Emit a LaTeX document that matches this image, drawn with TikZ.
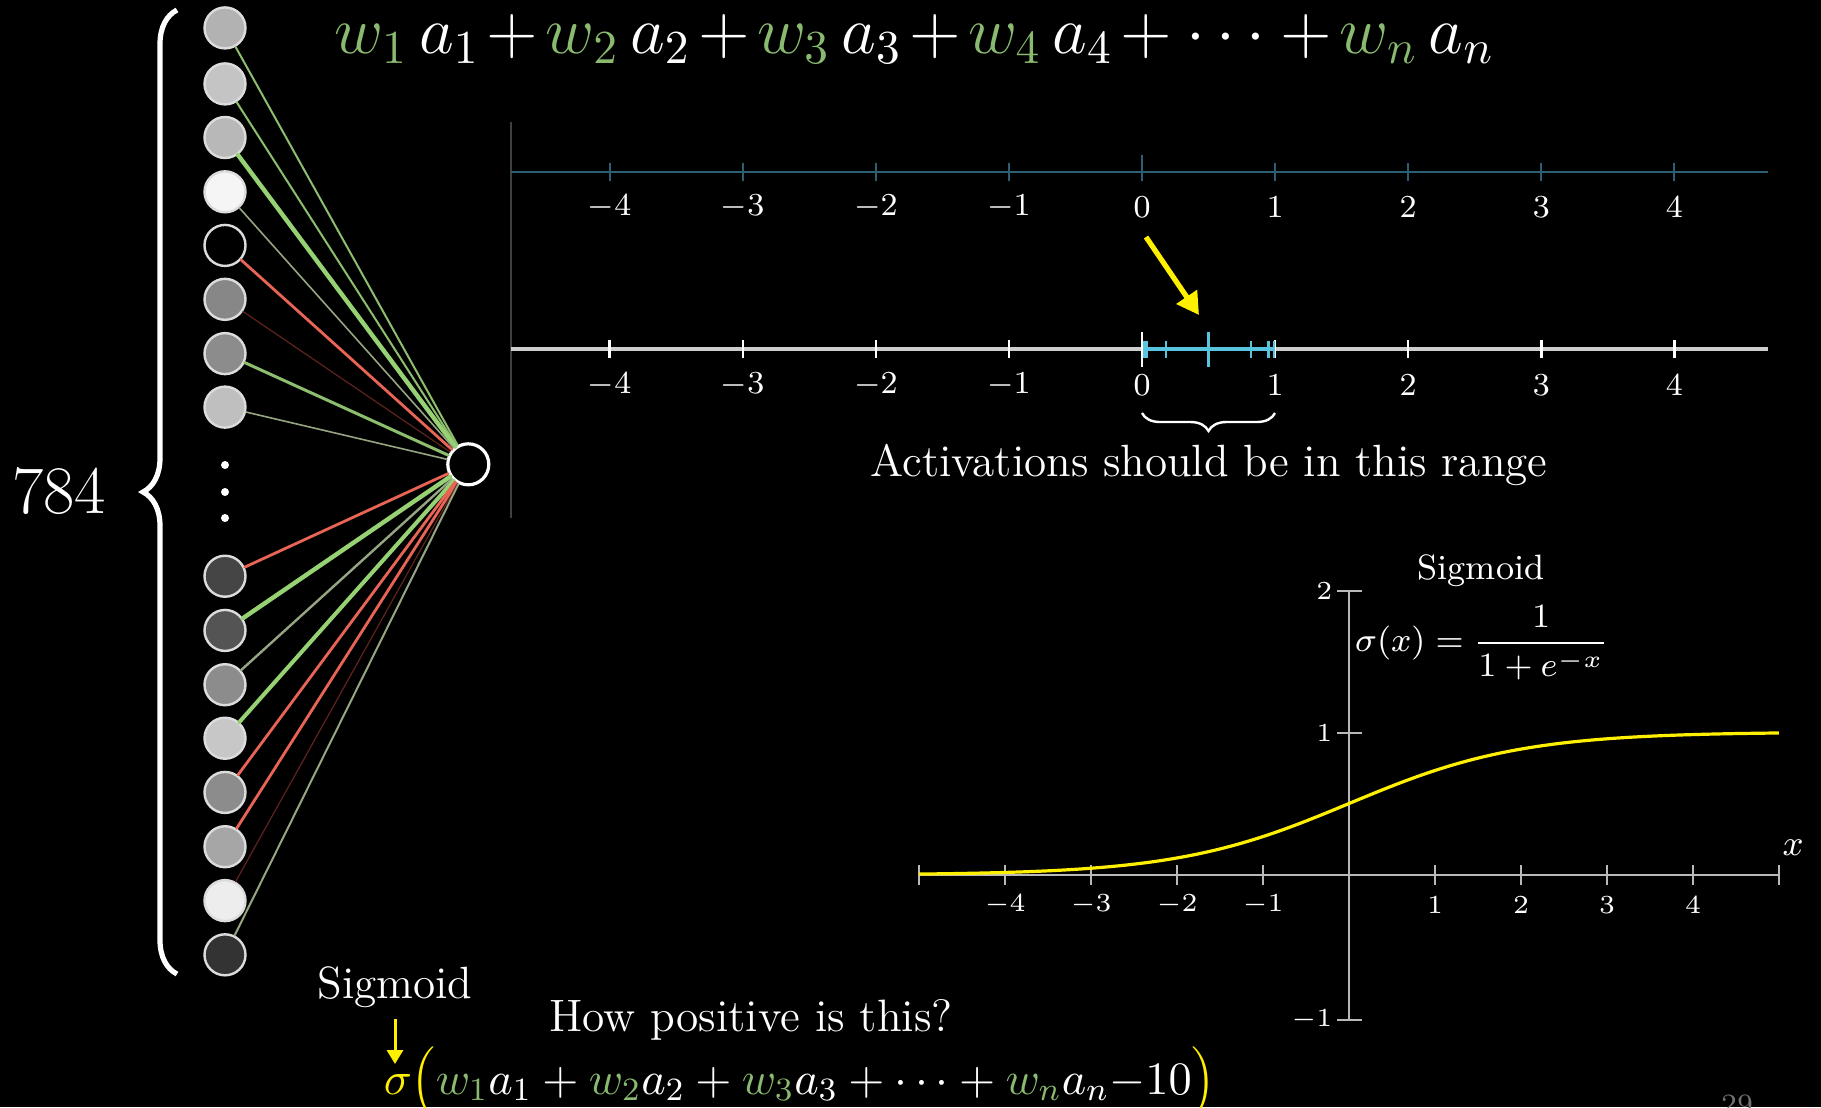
\RequirePackage{fix-cm}
\documentclass[tikz,border=0pt]{standalone}
\usetikzlibrary{decorations.pathreplacing,arrows.meta}
\definecolor{wtxt}{RGB}{138,186,112}
\definecolor{lgA}{RGB}{140,190,110}
\definecolor{lgB}{RGB}{150,210,115}
\definecolor{lgC}{RGB}{150,165,130}
\definecolor{lrA}{RGB}{232,100,85}
\definecolor{lrD}{RGB}{95,35,30}
\definecolor{yel}{RGB}{255,240,0}
\definecolor{cyanl}{RGB}{88,196,221}
\definecolor{tealline}{RGB}{45,95,115}
\definecolor{axgray}{RGB}{185,185,185}
\definecolor{nlgray}{RGB}{205,205,205}
\definecolor{ringgray}{RGB}{220,220,220}
\newcommand{\Wg}[1]{{\color{wtxt}#1}}
\newcommand{\FS}[1]{\fontsize{#1}{#1}\selectfont}
\begin{document}
\begin{tikzpicture}[x=0.25pt,y=-0.25pt,
  neuron/.style={circle,draw=ringgray,line width=0.6pt,minimum size=10.25pt,inner sep=0pt},
  outn/.style={circle,draw=white,line width=0.8pt,fill=black,minimum size=10.25pt,inner sep=0pt},
  dotn/.style={circle,fill=white,minimum size=2pt,inner sep=0pt},
  lbl/.style={text=white,inner sep=0pt},
  nlabel/.style={lbl,font=\FS{8}},
  slabel/.style={lbl,font=\FS{6.5}},
  conn/.style={line cap=round}]
\fill[black] (0,0) rectangle (1821,1107);
\useasboundingbox (0,0) rectangle (1821,1107);

% ---------- input neurons ----------
\foreach \i/\yy/\g in {1/27.9/70,2/83.9/77,3/137.5/72,4/191.8/96,5/245.4/0,6/299.3/53,7/353.6/55,8/407.1/75,
  9/576.2/27,10/630.4/33,11/684.7/55,12/738.2/78,13/792.4/55,14/846.7/65,15/900.6/93,16/954.8/20}
  \node[neuron,fill=white!\g!black] (n\i) at (225,\yy) {};
\node[dotn] (d1) at (225,465) {};
\node[dotn] (d2) at (225,492) {};
\node[dotn] (d3) at (225,518) {};
\node[outn] (out) at (468.3,464.3) {};

% ---------- connections ----------
\foreach \i/\c/\w in {1/lgA/0.5pt,2/lgA/0.5pt,3/lgB/1.1pt,4/lgC/0.4pt,5/lrA/0.7pt,6/lrD/0.3pt,7/lgA/0.75pt,8/lgC/0.4pt,
  9/lrA/0.7pt,10/lgB/1.1pt,11/lgC/0.6pt,12/lgB/1.0pt,13/lrA/0.7pt,14/lrA/0.7pt,15/lrD/0.3pt,16/lgC/0.5pt}
  \draw[conn,draw=\c,line width=\w] (n\i) -- (out);

% ---------- big brace and 784 ----------
\draw[white,line width=1.3pt,decorate,decoration={brace,amplitude=8.5pt}] (177,974) -- (177,10);
\node[lbl,font=\FS{17}] (n784) at (59,491) {784};

% ---------- top formula ----------
\node[lbl,anchor=base west,font=\FS{16.9}] (topf) at (334,53)
  {$\Wg{w_1}\,a_1\mkern2mu{+}\mkern2mu\Wg{w_2}\,a_2\mkern2mu{+}\mkern2mu\Wg{w_3}\,a_3\mkern2mu{+}\mkern2mu\Wg{w_4}\,a_4\mkern2mu{+}\mkern1mu\cdots\mkern1mu{+}\mkern2mu\Wg{w_n}\,a_n$};

% ---------- faint frame line ----------
\draw[draw=white!25!black,line width=0.4pt] (511,122) -- (511,518);

% ---------- top number line ----------
\draw[tealline,line width=0.5pt] (511,172) -- (1768,172);
\foreach \v [count=\k] in {-4,-3,-2,-1,0,1,2,3,4} {
  \draw[tealline,line width=0.5pt] ({1142+133.1*\v},163) -- ({1142+133.1*\v},181);
  \node[nlabel] (tl\k) at ({1142+133.1*\v},207) {$\v$};
}
\draw[tealline,line width=0.5pt] (1142,155) -- (1142,181);

% ---------- bottom number line ----------
\draw[nlgray,line width=1pt] (511,349) -- (1768,349);
\draw[cyanl,line width=1pt] (1142,349) -- (1275,349);
\foreach \v [count=\k] in {-4,-3,-2,-1,0,1,2,3,4} {
  \draw[white,line width=0.6pt] ({1142+133.1*\v},340) -- ({1142+133.1*\v},358);
  \node[nlabel] (bl\k) at ({1142+133.1*\v},385) {$\v$};
}
\draw[white,line width=0.6pt] (1142,331.5) -- (1142,367);
\foreach \v in {0.015,0.035,0.18,0.82,0.95,0.99}
  \draw[cyanl,line width=0.6pt] ({1142+133.1*\v},340.5) -- ({1142+133.1*\v},358);
\draw[cyanl,line width=0.6pt] (1208.5,331.5) -- (1208.5,367);

\coordinate (ya1) at (1146,237);
\coordinate (ya2) at (1199,315);
\draw[yel,line width=1.3pt,-{Triangle[length=5.5pt,width=6pt]}] (ya1) -- (ya2);

\draw[white,line width=0.6pt,decorate,decoration={brace,amplitude=4.5pt}] (1275,413) -- (1142,413);
\node[lbl,anchor=base,font=\FS{11.3}] (act) at (1209,476) {Activations should be in this range};

% ---------- sigmoid graph ----------
\draw[axgray,line width=0.6pt] (919.8,875) -- (1779,875);
\draw[axgray,line width=0.6pt] (1349,590) -- (1349,1020);
\foreach \v in {-5,-4,-3,-2,-1,1,2,3,4,5}
  \draw[axgray,line width=0.6pt] ({1349+86*\v},865) -- ({1349+86*\v},885);
\foreach \yy in {590.7,732.7,1020}
  \draw[axgray,line width=0.6pt] (1337,\yy) -- (1362,\yy);
\foreach \v [count=\k] in {-4,-3,-2,-1,1,2,3,4}
  \node[slabel] (xl\k) at ({1349+86*\v},905) {$\v$};
\node[slabel,anchor=east] (yl2) at (1333,591) {$2$};
\node[slabel,anchor=east] (yl1) at (1333,733) {$1$};
\node[slabel,anchor=east] (ylm) at (1333,1020) {$-1$};
\draw[yel,line width=0.8pt,domain=-5:5,samples=100] plot ({1349+86*\x},{875-143/(1+exp(-\x))});
\node[lbl,font=\FS{9}] (xlab) at (1793,848) {$x$};
\node[lbl,anchor=base,font=\FS{8.8}] (sgt) at (1481,579) {Sigmoid};
\node[lbl,font=\FS{8.5}] (sgf) at (1482,643) {$\displaystyle\sigma(x)=\frac{1}{1+e^{-x}}$};

% ---------- bottom left ----------
\node[lbl,anchor=base,font=\FS{11.3}] (sgb) at (395,998) {Sigmoid};
\coordinate (sa1) at (395,1019);
\coordinate (sa2) at (395,1064);
\draw[yel,line width=0.75pt,-{Triangle[length=3.5pt,width=4pt]}] (sa1) -- (sa2);
\node[lbl,anchor=base,font=\FS{11.35}] (how) at (751,1031) {How positive is this?};
\node[lbl,anchor=base west,font=\FS{11.6}] (botf) at (383,1094)
  {$\color{yel}\sigma\Bigl(\color{white}\Wg{w_1}a_1+\Wg{w_2}a_2+\Wg{w_3}a_3+\cdots+\Wg{w_n}a_n{-}10\color{yel}\Bigr)$};

\node[text=white!45!black,font=\FS{7},inner sep=0pt] (pg) at (1737,1104) {29};
\end{tikzpicture}
\end{document}
